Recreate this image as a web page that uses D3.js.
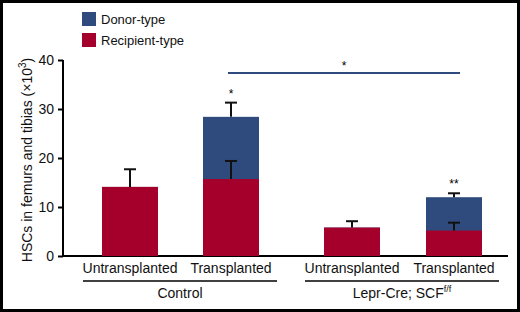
<!DOCTYPE html>
<html>
<head>
<meta charset="utf-8">
<script src="https://cdn.jsdelivr.net/npm/d3@7"></script>
<style>
  body{margin:0;background:#fff;}
  svg{display:block;font-family:"Liberation Sans", Arial, sans-serif;}
</style>
</head>
<body>
<script>
var categories = ['Untransplanted', 'Transplanted', 'Untransplanted', 'Transplanted']
var groups = ['Control', 'Lepr-Cre; SCF']
var recipient = [14.1, 15.7, 5.8, 5.2]
var recipientErr = [3.6, 3.7, 1.3, 1.6]
var total = [14.1, 28.4, 5.8, 12.0]
var totalErr = [0, 2.9, 0, 0.8]
var yTicks = [0, 10, 20, 30, 40]
var stars = ['', '*', '', '**']

var W = 520, H = 312
var svg = d3.select('body').append('svg').attr('width', W).attr('height', H)

svg.append('rect').attr('x', 1.5).attr('y', 1.5).attr('width', W - 3).attr('height', H - 3)
  .attr('fill', '#fff').attr('stroke', '#000').attr('stroke-width', 3)

var blue = '#2f4b7d', red = '#a5002b'

var y = d3.scaleLinear().domain([0, 40]).range([256, 60])
var xPos = [102, 203, 324, 426]
var bw = 56

// axes
var yAxis = svg.append('g').attr('transform', 'translate(63,0)')
  .call(d3.axisLeft(y).tickValues(yTicks).tickSize(5).tickPadding(4))
yAxis.select('.domain').attr('d', 'M0,' + y(40) + 'V' + y(0)).attr('stroke-width', 2)
yAxis.selectAll('.tick line').attr('stroke-width', 2)
yAxis.selectAll('text').attr('font-size', 14).attr('fill', '#111')

svg.append('line').attr('x1', 62).attr('x2', 508).attr('y1', y(0)).attr('y2', y(0))
  .attr('stroke', '#000').attr('stroke-width', 2)

var yl = svg.append('text')
  .attr('transform', 'translate(32,160) rotate(-90)')
  .attr('text-anchor', 'middle').attr('font-size', 14).attr('fill', '#111')
yl.append('tspan').text('HSCs in femurs and tibias (×10')
yl.append('tspan').attr('font-size', 10).attr('dy', -6).text('3')
yl.append('tspan').attr('dy', 6).text(')')

// bars
svg.selectAll('rect.total').data(total).join('rect')
  .attr('class', 'total')
  .attr('x', (d, i) => xPos[i]).attr('width', bw)
  .attr('y', d => y(d)).attr('height', d => y(0) - y(d))
  .attr('fill', blue)

svg.selectAll('rect.rec').data(recipient).join('rect')
  .attr('class', 'rec')
  .attr('x', (d, i) => xPos[i]).attr('width', bw)
  .attr('y', d => y(d)).attr('height', d => y(0) - y(d))
  .attr('fill', red)

// error bars
function errBars(vals, errs){
  vals.forEach((v, i) => {
    if (!errs[i]) return
    var cx = xPos[i] + bw/2
    var g = svg.append('g').attr('stroke', '#111').attr('stroke-width', 2)
    g.append('line').attr('x1', cx).attr('x2', cx).attr('y1', y(v)).attr('y2', y(v + errs[i]))
    g.append('line').attr('x1', cx - 6).attr('x2', cx + 6).attr('y1', y(v + errs[i])).attr('y2', y(v + errs[i]))
  })
}
errBars(recipient, recipientErr)
errBars(total, totalErr)

// stars
svg.selectAll('text.star').data(stars).join('text')
  .attr('x', (d, i) => xPos[i] + bw/2)
  .attr('y', (d, i) => y(total[i] + totalErr[i]) - 5)
  .attr('text-anchor', 'middle').attr('font-size', 12).text(d => d)

// significance bar
svg.append('line').attr('x1', 228).attr('x2', 460).attr('y1', 73).attr('y2', 73)
  .attr('stroke', blue).attr('stroke-width', 2)
svg.append('text').attr('x', 344).attr('y', 70).attr('text-anchor', 'middle')
  .attr('font-size', 12).text('*')

// category labels
svg.selectAll('text.cat').data(categories).join('text')
  .attr('x', (d, i) => xPos[i] + bw/2).attr('y', 273)
  .attr('text-anchor', 'middle').attr('font-size', 14).attr('fill', '#111').text(d => d)

var groupSpan = [[83, 277], [305, 499]]
groupSpan.forEach((s, i) => {
  svg.append('line').attr('x1', s[0]).attr('x2', s[1]).attr('y1', 281).attr('y2', 281)
    .attr('stroke', '#000').attr('stroke-width', 1.5)
  var t = svg.append('text').attr('x', (s[0] + s[1])/2).attr('y', 298)
    .attr('text-anchor', 'middle').attr('font-size', 14).attr('fill', '#111').text(groups[i])
  if (i == 1) t.append('tspan').attr('font-size', 9).attr('dy', -6).text('f/f')
})

// legend
var legend = [['Donor-type', blue], ['Recipient-type', red]]
legend.forEach((d, i) => {
  svg.append('rect').attr('x', 82).attr('y', 12 + i*21).attr('width', 14).attr('height', 14).attr('fill', d[1])
  svg.append('text').attr('x', 101).attr('y', 24 + i*21).attr('font-size', 13).attr('fill', '#111').text(d[0])
})
</script>
</body>
</html>
